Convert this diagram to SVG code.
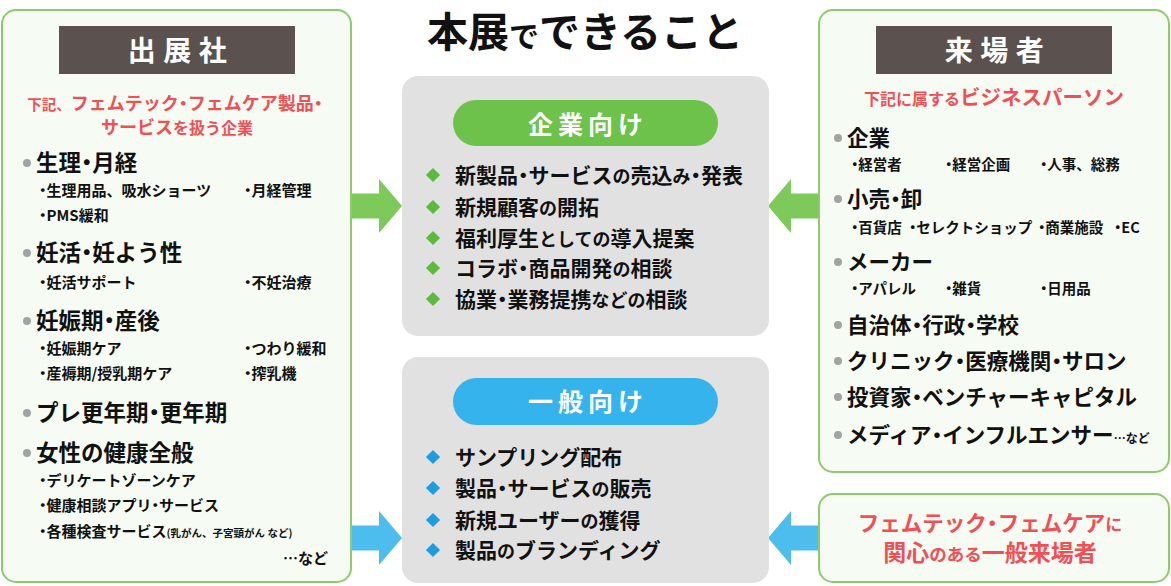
<svg xmlns="http://www.w3.org/2000/svg" width="1171" height="586" viewBox="0 0 1171 586">
<style>
text{font-family:"Noto Sans CJK JP","Noto Sans CJK SC",sans-serif;font-weight:bold;}
.p{font-feature-settings:"palt";}
.k{font-size:18px;}
.panel{fill:#F6FBF3;stroke:#8DCB6C;stroke-width:2;}
.hdr{fill:#5B5250;}
.hdrt{fill:#fff;font-size:28px;letter-spacing:7.5px;text-anchor:middle;}
.red{fill:#F24F55;}
.h{fill:#111;font-size:22.5px;}
.s{fill:#111;font-size:15px;}
.rh{fill:#111;font-size:21.5px;}
.rs{fill:#111;font-size:14.5px;}
.dot{fill:#A3A3A3;}
.gbox{fill:#E1E1E1;}
.item{fill:#111;font-size:21px;}
.pillt{fill:#fff;font-size:25px;letter-spacing:5px;text-anchor:middle;}
.dg{fill:#5DBB3C;}
.db{fill:#1C9DE0;}
</style>
<defs>
<polygon id="arrR" points="0,-12.5 28,-12.5 28,-27 51,0 28,27 28,12.5 0,12.5"/>
</defs>
<rect width="1171" height="586" fill="#fff"/>

<text x="585" y="47" text-anchor="middle" fill="#111" font-size="41"><tspan>本展</tspan><tspan font-size="30">で</tspan><tspan>できること</tspan></text>

<g id="connectors">
<use href="#arrR" x="351" y="206" fill="#7DC95A"/>
<use href="#arrR" transform="translate(819,206) scale(-1,1)" fill="#7DC95A"/>
<use href="#arrR" x="351" y="538" fill="#4DBDEE"/>
<use href="#arrR" transform="translate(819,538) scale(-1,1)" fill="#4DBDEE"/>
</g>

<g id="exhibitor">
<rect class="panel" x="2" y="10" width="349" height="572" rx="14"/>
<rect class="hdr" x="59" y="26" width="236" height="48"/>
<text class="hdrt" x="181" y="61">出展社</text>
<text class="red" x="175" y="110" text-anchor="middle"><tspan font-size="14.5">下記、</tspan><tspan font-size="18">フェムテック<tspan class="p">・</tspan>フェムケア製品<tspan class="p">・</tspan></tspan></text>
<text class="red" x="177" y="134" text-anchor="middle"><tspan font-size="18">サービス</tspan><tspan font-size="16">を扱う企業</tspan></text>
<circle class="dot" cx="27" cy="163" r="4"/>
<text class="h" x="36" y="171">生理<tspan class="p">・</tspan>月経</text>
<text class="s" x="39" y="195.5"><tspan class="p">・</tspan>生理用品、吸水ショーツ</text>
<text class="s" x="244" y="195.5"><tspan class="p">・</tspan>月経管理</text>
<text class="s" x="39" y="220.5"><tspan class="p">・</tspan>PMS緩和</text>
<circle class="dot" cx="27" cy="253" r="4"/>
<text class="h" x="36" y="261">妊活<tspan class="p">・</tspan>妊よう性</text>
<text class="s" x="39" y="287.5"><tspan class="p">・</tspan>妊活サポート</text>
<text class="s" x="244" y="287.5"><tspan class="p">・</tspan>不妊治療</text>
<circle class="dot" cx="27" cy="321" r="4"/>
<text class="h" x="36" y="329">妊娠期<tspan class="p">・</tspan>産後</text>
<text class="s" x="39" y="353.5"><tspan class="p">・</tspan>妊娠期ケア</text>
<text class="s" x="244" y="353.5"><tspan class="p">・</tspan>つわり緩和</text>
<text class="s" x="39" y="378.5"><tspan class="p">・</tspan>産褥期/授乳期ケア</text>
<text class="s" x="244" y="378.5"><tspan class="p">・</tspan>搾乳機</text>
<circle class="dot" cx="27" cy="413" r="4"/>
<text class="h" x="36" y="421">プレ更年期<tspan class="p">・</tspan>更年期</text>
<circle class="dot" cx="27" cy="453" r="4"/>
<text class="h" x="36" y="461">女性の健康全般</text>
<text class="s" x="39" y="485.5"><tspan class="p">・</tspan>デリケートゾーンケア</text>
<text class="s" x="39" y="510.5"><tspan class="p">・</tspan>健康相談アプリ<tspan class="p">・</tspan>サービス</text>
<text class="s" x="39" y="536.5"><tspan class="p">・</tspan>各種検査サービス<tspan font-size="10.5">(乳がん、子宮頸がん など)</tspan></text>
<text class="s" x="328" y="563.5" text-anchor="end">…など</text>
</g>

<g id="business">
<rect class="gbox" x="402" y="76" width="367" height="260" rx="16"/>
<rect x="453" y="100" width="265" height="46" rx="23" fill="#6CC24A"/>
<text class="pillt" x="588" y="134">企業向け</text>
<rect class="dg" x="428" y="170" width="10" height="10" transform="rotate(45 433 175)"/>
<text class="item" x="455" y="183">新製品<tspan class="p">・</tspan>サービス<tspan class="k">の</tspan>売込<tspan class="k">み</tspan><tspan class="p">・</tspan>発表</text>
<rect class="dg" x="428" y="202" width="10" height="10" transform="rotate(45 433 207)"/>
<text class="item" x="455" y="215">新規顧客<tspan class="k">の</tspan>開拓</text>
<rect class="dg" x="428" y="233" width="10" height="10" transform="rotate(45 433 238)"/>
<text class="item" x="455" y="246">福利厚生<tspan class="k">としての</tspan>導入提案</text>
<rect class="dg" x="428" y="263" width="10" height="10" transform="rotate(45 433 268)"/>
<text class="item" x="455" y="276">コラボ<tspan class="p">・</tspan>商品開発<tspan class="k">の</tspan>相談</text>
<rect class="dg" x="428" y="294" width="10" height="10" transform="rotate(45 433 299)"/>
<text class="item" x="455" y="307">協業<tspan class="p">・</tspan>業務提携<tspan class="k">などの</tspan>相談</text>
</g>

<g id="general">
<rect class="gbox" x="402" y="357" width="367" height="226" rx="16"/>
<rect x="453" y="378" width="265" height="47" rx="23.5" fill="#35B3EC"/>
<text class="pillt" x="588" y="411">一般向け</text>
<rect class="db" x="428" y="452" width="10" height="10" transform="rotate(45 433 457)"/>
<text class="item" x="455" y="465">サンプリング配布</text>
<rect class="db" x="428" y="483" width="10" height="10" transform="rotate(45 433 488)"/>
<text class="item" x="455" y="496">製品<tspan class="p">・</tspan>サービス<tspan class="k">の</tspan>販売</text>
<rect class="db" x="428" y="515" width="10" height="10" transform="rotate(45 433 520)"/>
<text class="item" x="455" y="528">新規ユーザー<tspan class="k">の</tspan>獲得</text>
<rect class="db" x="428" y="545" width="10" height="10" transform="rotate(45 433 550)"/>
<text class="item" x="455" y="558">製品<tspan class="k">の</tspan>ブランディング</text>
</g>

<g id="visitors">
<rect class="panel" x="819" y="10" width="350" height="462" rx="14"/>
<rect class="hdr" x="876" y="26" width="236" height="48"/>
<text class="hdrt" x="998" y="61">来場者</text>
<text class="red" x="994" y="105" text-anchor="middle"><tspan font-size="16">下記に属する</tspan><tspan font-size="20.5">ビジネスパーソン</tspan></text>
<circle class="dot" cx="838" cy="138" r="4"/>
<text class="rh" x="847" y="146">企業</text>
<text class="rs" x="851" y="170"><tspan class="p">・</tspan>経営者</text>
<text class="rs" x="945" y="170"><tspan class="p">・</tspan>経営企画</text>
<text class="rs" x="1040" y="170"><tspan class="p">・</tspan>人事、総務</text>
<circle class="dot" cx="838" cy="199" r="4"/>
<text class="rh" x="847" y="207">小売<tspan class="p">・</tspan>卸</text>
<text class="rs" y="233" font-size="14"><tspan x="851"><tspan class="p">・</tspan>百貨店 </tspan><tspan x="909"><tspan class="p">・</tspan>セレクトショップ </tspan><tspan x="1038"><tspan class="p">・</tspan>商業施設 </tspan><tspan x="1114"><tspan class="p">・</tspan>EC</tspan></text>
<circle class="dot" cx="838" cy="262" r="4"/>
<text class="rh" x="847" y="270">メーカー</text>
<text class="rs" x="851" y="294"><tspan class="p">・</tspan>アパレル</text>
<text class="rs" x="945" y="294"><tspan class="p">・</tspan>雑貨</text>
<text class="rs" x="1040" y="294"><tspan class="p">・</tspan>日用品</text>
<circle class="dot" cx="838" cy="325" r="4"/>
<text class="rh" x="847" y="333">自治体<tspan class="p">・</tspan>行政<tspan class="p">・</tspan>学校</text>
<circle class="dot" cx="838" cy="361" r="4"/>
<text class="rh" x="847" y="369">クリニック<tspan class="p">・</tspan>医療機関<tspan class="p">・</tspan>サロン</text>
<circle class="dot" cx="838" cy="397" r="4"/>
<text class="rh" x="847" y="405">投資家<tspan class="p">・</tspan>ベンチャーキャピタル</text>
<circle class="dot" cx="838" cy="435" r="4"/>
<text class="rh" x="847" y="443">メディア<tspan class="p">・</tspan>インフルエンサー<tspan font-size="12">…など</tspan></text>
</g>

<g id="public">
<rect class="panel" x="819" y="494" width="350" height="88" rx="14"/>
<text class="red" x="990" y="531" text-anchor="middle"><tspan font-size="21.5">フェムテック<tspan class="p">・</tspan>フェムケア</tspan><tspan font-size="17">に</tspan></text>
<text class="red" x="990" y="561" text-anchor="middle"><tspan font-size="23">関心</tspan><tspan font-size="17.5">のある</tspan><tspan font-size="23">一般来場者</tspan></text>
</g>
</svg>
